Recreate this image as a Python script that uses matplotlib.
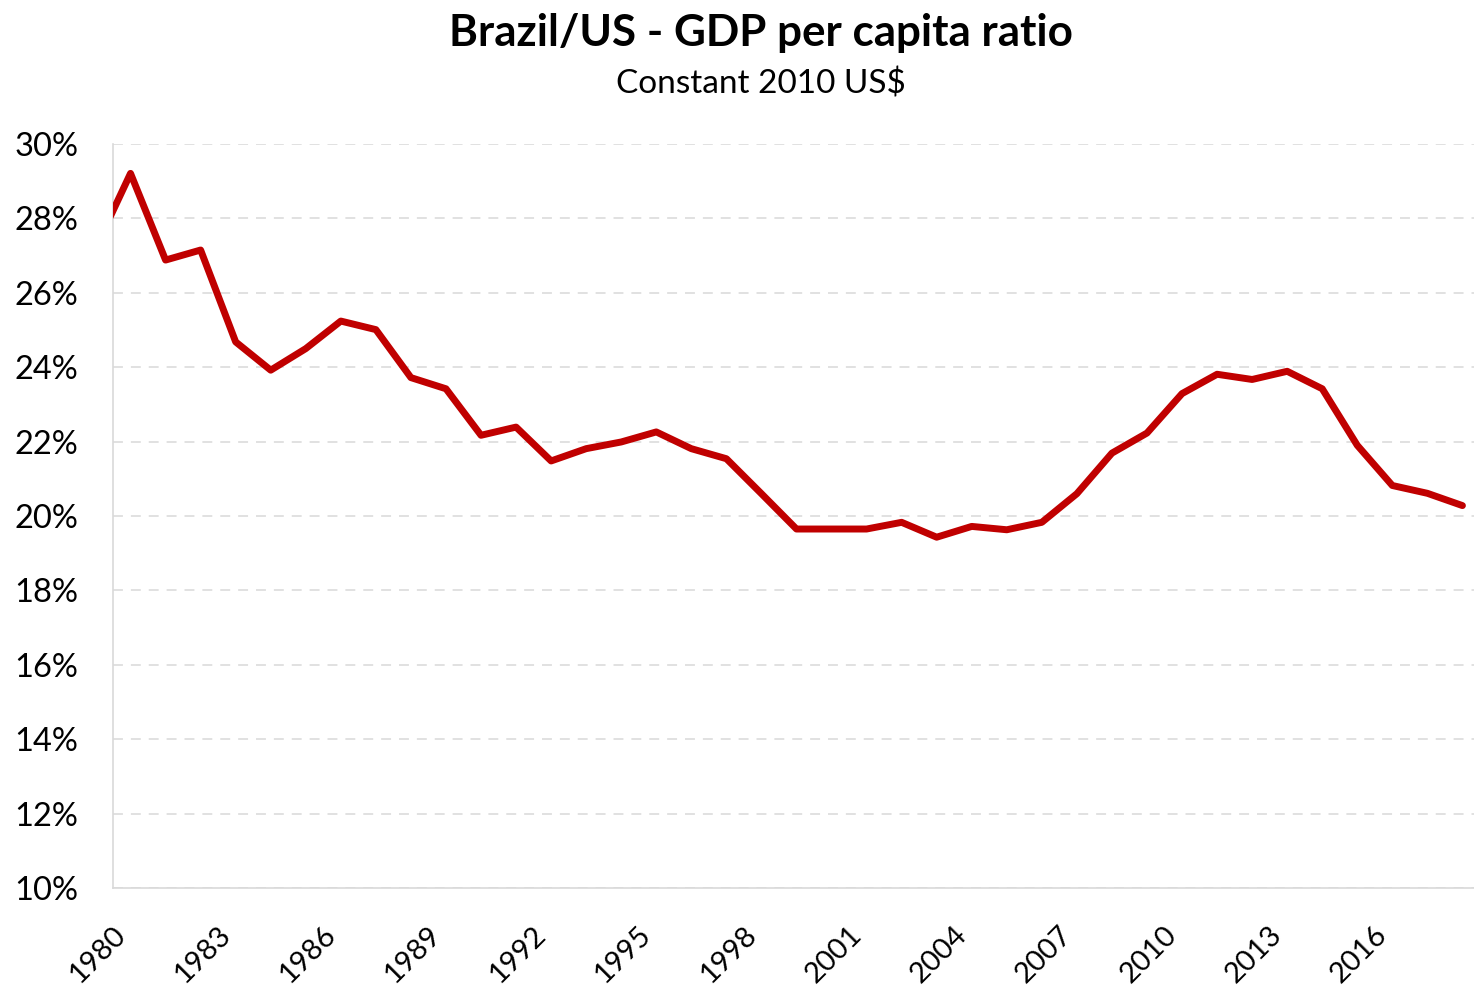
#Brazil/US GDP per capita ratio, constant 2010 US$
import numpy as np
import matplotlib as mpl
import matplotlib.pyplot as plt
from matplotlib.ticker import FuncFormatter

mpl.rcParams['font.family'] = ['Lato', 'DejaVu Sans']

#data (percent)
years = list(range(1979, 2019))
ratio = [27.2, 29.21, 26.88, 27.15, 24.68, 23.92, 24.50, 25.24, 25.01, 23.72,
         23.42, 22.17, 22.39, 21.48, 21.81, 21.99, 22.26, 21.81, 21.54, 20.60,
         19.65, 19.65, 19.65, 19.83, 19.43, 19.72, 19.63, 19.83, 20.60, 21.69,
         22.23, 23.29, 23.81, 23.67, 23.89, 23.42, 21.90, 20.82, 20.61, 20.28]
xtick_years = list(range(1980, 2017, 3))
ytick_vals = list(range(10, 31, 2))

title = 'Brazil/US - GDP per capita ratio'
subtitle = 'Constant 2010 US$'

fig = plt.figure(figsize=(14.74, 9.92), dpi=100)
ax = fig.add_axes([113/1474, 1-888/992, 1-113/1474, (888-144)/992])

ax.plot(years, ratio, color='#c00000', lw=5.0, solid_capstyle='round',
        solid_joinstyle='round', zorder=3)

ax.set_xlim(1979.5, 2018.33)
ax.set_ylim(10, 30)
ax.set_yticks(ytick_vals)
ax.yaxis.set_major_formatter(FuncFormatter(lambda v, p: '%d%%' % v))
ax.set_xticks(xtick_years)
ax.set_xticklabels([str(y) for y in xtick_years], rotation=45, ha='right', va='top')

ax.grid(axis='y', color='#d9d9d9', lw=1.1, ls=(0, (6.5, 5.2)), zorder=1)
ax.set_axisbelow(True)
ax.tick_params(axis='both', length=0, colors='black')
ax.tick_params(axis='y', pad=25, labelsize=23.5)
ax.tick_params(axis='x', pad=24, labelsize=21)

for s in ['top', 'right']:
    ax.spines[s].set_visible(False)
for s in ['left', 'bottom']:
    ax.spines[s].set_color('#d9d9d9')
    ax.spines[s].set_linewidth(1.2)

fig.text(761/1474, 1-33/992, title, ha='center', va='center', fontsize=31.7, fontweight='bold')
fig.text(761/1474, 1-84/992, subtitle, ha='center', va='center', fontsize=24)

plt.savefig('out.png', dpi=100)
